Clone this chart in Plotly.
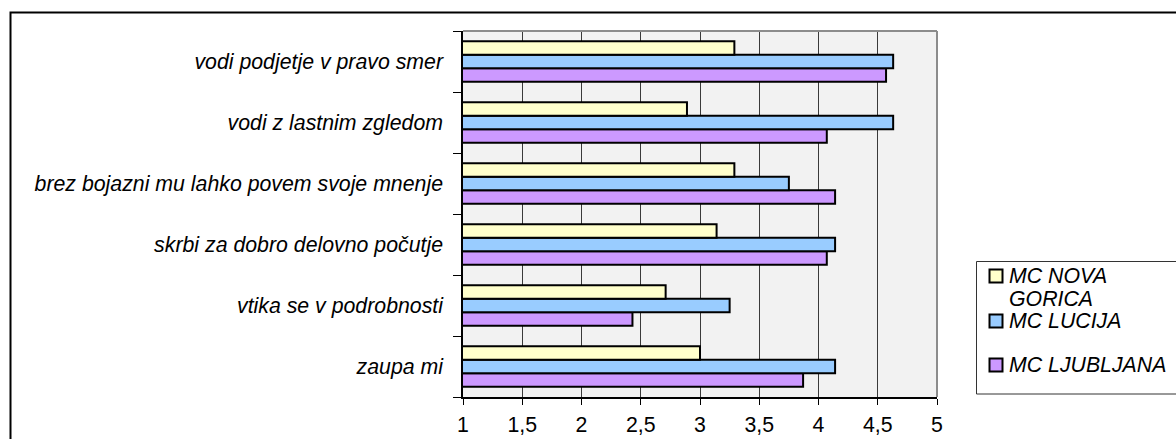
import plotly.graph_objects as go

# Survey statements (bottom to top on the category axis)
statements = [
    "zaupa mi",
    "vtika se v podrobnosti",
    "skrbi za dobro delovno počutje",
    "brez bojazni mu lahko povem svoje mnenje",
    "vodi z lastnim zgledom",
    "vodi podjetje v pravo smer",
]

# Average scores per unit, same order as statements
mc_ljubljana = [3.87, 2.43, 4.07, 4.14, 4.07, 4.57]
mc_lucija = [4.14, 3.25, 4.14, 3.75, 4.63, 4.63]
mc_nova_gorica = [3.00, 2.71, 3.14, 3.29, 2.89, 3.29]

x_tick_vals = [1, 1.5, 2, 2.5, 3, 3.5, 4, 4.5, 5]
x_tick_text = ["1", "1,5", "2", "2,5", "3", "3,5", "4", "4,5", "5"]

FONT = "Liberation Sans, Arial, sans-serif"
FS = 21.3

# drawn bottom-to-top within each group
series = [
    ("MC LJUBLJANA", mc_ljubljana, "#CC99FF"),
    ("MC LUCIJA", mc_lucija, "#99CCFF"),
    ("MC NOVA GORICA", mc_nova_gorica, "#FFFFCC"),
]

fig = go.Figure()
for name, vals, color in series:
    fig.add_trace(go.Bar(
        y=statements,
        x=vals,
        name=name,
        orientation="h",
        showlegend=False,
        marker=dict(color=color, line=dict(color="black", width=2)),
    ))

# plot area geometry in pixels
L, R, T, B = 463, 239, 31, 42
W, H = 1176, 439
pw, ph = W - L - R, H - T - B


def px(x):
    return (x - L) / pw


def py(y):
    return (H - B - y) / ph


shapes = [
    # outer chart frame
    dict(type="rect", xref="paper", yref="paper",
         x0=px(10.5), x1=px(1200), y0=py(460), y1=py(12.5),
         line=dict(color="black", width=2), layer="below"),
    # plot area top and right borders
    dict(type="line", xref="paper", yref="paper", x0=0, x1=1, y0=1, y1=1,
         line=dict(color="#8c8c8c", width=2)),
    dict(type="line", xref="paper", yref="paper", x0=1, x1=1, y0=0, y1=1,
         line=dict(color="#8c8c8c", width=2)),
    # legend box
    dict(type="rect", xref="paper", yref="paper",
         x0=px(976.5), x1=px(1200), y0=py(394), y1=py(261.5),
         line=dict(color="#333333", width=1)),
]
annotations = []

# legend entries, top to bottom: (label lines, colour, row centres)
legend_rows = [
    (["MC NOVA", "GORICA"], "#FFFFCC", [276, 299]),
    (["MC LUCIJA"], "#99CCFF", [321]),
    (["MC LJUBLJANA"], "#CC99FF", [365]),
]
for lines, color, ys in legend_rows:
    yc = ys[0]
    shapes.append(dict(
        type="rect", xref="paper", yref="paper",
        x0=px(989.5), x1=px(1002.5), y0=py(yc + 6.5), y1=py(yc - 6.5),
        fillcolor=color, line=dict(color="black", width=2),
    ))
    for text, yline in zip(lines, ys):
        annotations.append(dict(
            text=text, xref="paper", yref="paper",
            x=px(1007), y=py(yline), xanchor="left", yanchor="middle",
            showarrow=False, height=20,
            font=dict(family=FONT, size=FS, style="italic", color="black"),
        ))

fig.update_layout(
    width=W, height=H,
    margin=dict(l=L, r=R, t=T, b=B, pad=0),
    paper_bgcolor="white",
    plot_bgcolor="#F2F2F2",
    barmode="group",
    bargap=0.34,
    bargroupgap=0,
    font=dict(family=FONT, size=FS, color="black"),
    shapes=shapes,
    annotations=annotations,
    showlegend=False,
    xaxis=dict(
        range=[1, 5],
        tickvals=x_tick_vals,
        ticktext=x_tick_text,
        automargin=False,
        showgrid=True,
        gridcolor="#3a3a3a",
        gridwidth=1,
        showline=True,
        linecolor="black",
        linewidth=1.5,
        ticks="outside",
        ticklen=6,
        tickcolor="black",
        ticklabelstandoff=2,
        zeroline=False,
        tickfont=dict(family=FONT, size=FS),
        fixedrange=True,
    ),
    yaxis=dict(
        categoryorder="array",
        categoryarray=statements,
        automargin=False,
        showgrid=False,
        showline=True,
        linecolor="black",
        linewidth=1.5,
        ticks="outside",
        tickson="boundaries",
        ticklen=8,
        tickcolor="black",
        ticklabelstandoff=14,
        tickfont=dict(family=FONT, size=FS, style="italic"),
        fixedrange=True,
    ),
)

fig.write_html("out.html")
